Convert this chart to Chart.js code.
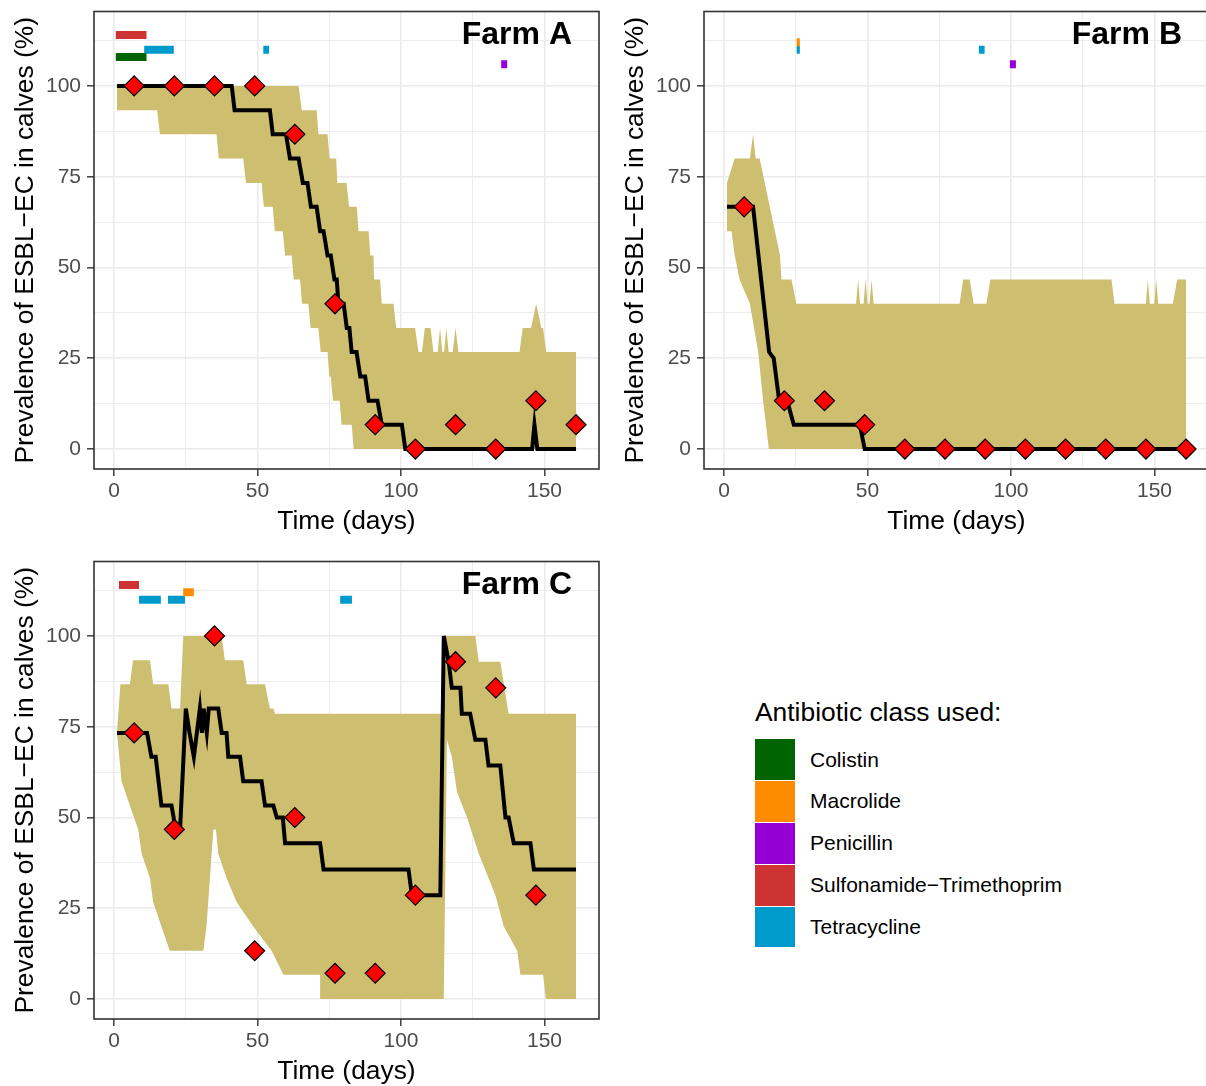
<!DOCTYPE html>
<html>
<head>
<meta charset="utf-8">
<script src="https://cdn.jsdelivr.net/npm/chart.js@4.4.1/dist/chart.umd.min.js"></script>
<style>
  html, body { margin: 0; padding: 0; background: #fff; overflow: hidden; }
  body { width: 1206px; height: 1086px; position: relative; font-family: "Liberation Sans", Arial, sans-serif; }
  canvas { position: absolute; }
  .leg-title { position: absolute; left: 755px; top: 699px; font-size: 26.4px; line-height: 26.4px; color: #000; white-space: nowrap; }
  .leg-item { position: absolute; left: 755px; height: 40.5px; display: flex; align-items: center; white-space: nowrap; }
  .leg-box { width: 40px; height: 40.5px; margin-right: 15px; }
  .leg-text { font-size: 21px; color: #000; }
</style>
</head>
<body>
<canvas id="farm-a" width="605" height="545" style="left:0;top:0"></canvas>
<canvas id="farm-b" width="605" height="545" style="left:610px;top:0"></canvas>
<canvas id="farm-c" width="605" height="545" style="left:0;top:550px"></canvas>
<div id="legend"></div>

<script>
// ---- data ----
const xTicks = [0, 50, 100, 150];
const xMinor = [25, 75, 125];
const yTicks = [0, 25, 50, 75, 100];
const yMinor = [12.5, 37.5, 62.5, 87.5, 112.5];

const classNames = ["Colistin", "Macrolide", "Penicillin", "Sulfonamide\u2212Trimethoprim", "Tetracycline"];
const classColors = ["#006400", "#FF8C00", "#9400D3", "#CD3333", "#009ACD"];
// y level at which each class is marked above the curves
const classLevel = [108, 112, 106, 114, 110];

const obsDays = [7, 21, 35, 49, 63, 77, 91, 105, 119, 133, 147, 161];
const obsA = [100, 100, 100, 100, 86.7, 40, 6.7, 0, 6.7, 0, 13.3, 6.7];
const obsB = [66.7, 13.3, 13.3, 6.7, 0, 0, 0, 0, 0, 0, 0, 0];
const obsC = [73.3, 46.7, 100, 13.3, 50, 7.1, 7.1, 28.6, 92.9, 85.7, 28.6];

// [day, prevalence] of the model curve and its band
const lineA = [[1,100],[41,100],[42,93.3],[54.3,93.3],[55.3,86.7],[59.9,86.7],[61.3,80],[64.3,80],[65.8,73.3],[67.4,73.3],[68.6,66.7],[70.6,66.7],[71.8,60],[73,60],[74.4,53.3],[75.5,53.3],[76.8,46.7],[77.6,46.7],[78.2,40],[80,40],[81.1,33.3],[82,33.3],[82.8,26.7],[84.5,26.7],[85.8,20],[87.5,20],[88.7,13.3],[91.8,13.3],[93.3,6.7],[100.3,6.7],[101.5,0],[145.7,0],[146.5,6.7],[147.5,0],[161,0]];
const upA = [[1,100],[64.3,100],[65.4,93.3],[70.6,93.3],[71.2,86.7],[74.4,86.7],[75.1,80],[77.4,80],[77.8,73.3],[81,73.3],[81.9,66.7],[84.6,66.7],[85.2,60],[88.7,60],[89.3,53.3],[90.4,53.3],[90.6,46.7],[92.7,46.7],[93.3,40],[97.4,40],[98.3,33.3],[104.9,33.3],[106.1,26.7],[107.3,26.7],[108.3,33.3],[110.3,33.3],[111.3,26.7],[112.8,26.7],[113.6,33.3],[114.4,26.7],[115,26.7],[115.8,33.3],[116.6,26.7],[118,26.7],[119,33.3],[120,26.7],[141.3,26.7],[142.4,33.3],[145.3,33.3],[147.1,40],[148.9,33.3],[149.5,33.3],[150.6,26.7],[161,26.7]];
const loA = [[1,93.3],[15,93.3],[16,86.7],[35.7,86.7],[36.5,80],[45,80],[46,73.3],[51.4,73.3],[52.2,66.7],[55.3,66.7],[56,60],[58.8,60],[59.6,53.3],[61.9,53.3],[62.6,46.7],[64.8,46.7],[65.5,40],[67.7,40],[68.5,33.3],[71.2,33.3],[72,26.7],[74.4,26.7],[75,20],[75.5,20],[76.3,13.3],[78.6,13.3],[79.3,6.7],[82.8,6.7],[83.5,0],[161,0]];

const lineB = [[1,66.7],[10.1,66.7],[15.7,26.7],[17.3,25],[19.2,13.3],[22,13.3],[24.3,6.7],[47.3,6.7],[49,0],[161,0]];
const upB = [[1,73.3],[3.7,80],[9,80],[10.1,86.7],[11,80],[12.4,80],[19.5,53.3],[20,46.7],[23.5,46.7],[25.2,40],[46,40],[46.7,46.7],[47.4,40],[48.6,40],[49.3,46.7],[50,40],[50.7,40],[51.4,46.7],[52.1,40],[82.1,40],[83.3,46.7],[85.6,46.7],[87,40],[91.4,40],[92.8,46.7],[135,46.7],[136.1,40],[147,40],[147.7,46.7],[148.4,40],[149.9,40],[150.6,46.7],[151.3,40],[156.4,40],[157.9,46.7],[161,46.7]];
const loB = [[1,60],[2.6,60],[3.7,53.3],[5.4,46.7],[9,40],[11.9,26.7],[13.6,13.3],[15.6,0],[161,0]];

const lineC = [[1,73.3],[11.5,73.3],[13,66.7],[14.5,66.7],[15.5,60],[16.5,53.3],[20,53.3],[21.5,46.7],[23,46.7],[25,80],[26.3,73.3],[27.8,66.7],[29.9,80],[30.6,73.3],[31.2,80],[32.3,73.3],[33,80],[36.3,80],[37.5,73.3],[39.2,73.3],[39.8,66.7],[43.9,66.7],[45,60],[51.4,60],[52.6,53.3],[55.5,53.3],[56.7,50],[58.8,50],[59.6,42.9],[71.8,42.9],[73,35.7],[102.6,35.7],[103.8,28.6],[113.7,28.6],[114.9,100],[116.6,92.9],[117.7,85.7],[120.7,85.7],[121.2,78.6],[124.1,78.6],[125.9,71.4],[129.4,71.4],[130.5,64.3],[134.6,64.3],[136.4,50],[137.5,50],[139.3,42.9],[145.1,42.9],[146.3,35.7],[161,35.7]];
const upC = [[1,73.3],[2.2,86.7],[5.5,86.7],[6.6,93.3],[12.5,93.3],[13.6,86.7],[18.9,86.7],[20,80],[23,80],[24.1,100],[37.5,100],[38.6,93.3],[45,93.3],[46.2,86.7],[52.6,86.7],[54.3,80],[55.5,80],[56.1,78.6],[114.9,78.6],[115.4,100],[125.9,100],[127.1,92.9],[134.6,92.9],[137.5,78.6],[161,78.6]];
const loC = [[1,73.3],[1.8,66.7],[2.6,60],[5.5,53.3],[8.4,46.7],[9.6,40],[12.5,33.3],[13.6,26.7],[16.5,20],[19.4,13.3],[31.1,13.3],[32.2,20],[34.6,46.7],[35.5,46.7],[36.3,40],[39.2,33.3],[42.7,26.7],[48.5,20],[54.9,13.3],[59,6.7],[71.8,6.7],[72,0],[114.9,0],[116,71.4],[117.7,66.7],[119.5,57.1],[123,50],[127.1,40],[132.9,28.6],[135.8,20],[140.5,13.3],[141.6,6.7],[149.5,6.7],[150.5,0],[161,0]];

// antibiotic use: [class index, first day, last day]
const treatA = [[3,0.6,11.3],[0,0.6,11.3],[4,10.5,20.8],[4,52,54],[2,134.9,137]];
const treatB = [[1,25.3,26.4],[4,25.3,26.4],[4,88.8,90.8],[2,99.6,101.7]];
const treatC = [[3,1.7,8.7],[1,24.1,27.8],[4,8.7,16.3],[4,18.8,24.7],[4,78.8,82.9]];

// ---- drawing ----
Chart.defaults.font.family = '"Liberation Sans", Arial, sans-serif';

const panelDeco = {
  id: "panelDeco",
  afterDraw(chart, args, opts) {
    const { ctx, chartArea } = chart;
    ctx.save();
    ctx.strokeStyle = "#333333";
    ctx.lineWidth = 1.6;
    ctx.strokeRect(chartArea.left, chartArea.top, chartArea.right - chartArea.left, chartArea.bottom - chartArea.top);
    ctx.font = 'bold 32px "Liberation Sans", Arial, sans-serif';
    ctx.fillStyle = "#000";
    ctx.textAlign = "right";
    ctx.textBaseline = "alphabetic";
    ctx.fillText(opts.text, chartArea.right - 27, chartArea.top + 32.5);
    ctx.restore();
  },
};

function pts(pairs) {
  return pairs.map((p) => ({ x: p[0], y: p[1] }));
}

function sinRelleno(axis) {
  axis.paddingTop = 0;
  axis.paddingBottom = 0;
  axis.paddingLeft = 0;
  axis.paddingRight = 0;
}

function dibujarGranja(id, titulo, obs, linea, sup, inf, usos) {
  const canvas = document.getElementById(id);

  let datasets = [];

  datasets.push({
    data: obs.map((v, i) => ({ x: obsDays[i], y: v })),
    showLine: false,
    pointStyle: "rectRot",
    pointRadius: 10,
    pointBackgroundColor: "#FF0000",
    pointBorderColor: "#000000",
    pointBorderWidth: 1.2,
    order: 1,
  });

  datasets.push({
    data: pts(linea),
    borderColor: "#000000",
    borderWidth: 4,
    pointRadius: 0,
    fill: false,
    order: 2,
  });

  usos.forEach((u) => {
    datasets.push({
      data: [
        { x: u[1], y: classLevel[u[0]] },
        { x: u[2], y: classLevel[u[0]] },
      ],
      borderColor: classColors[u[0]],
      borderWidth: 8,
      borderCapStyle: "butt",
      pointRadius: 0,
      fill: false,
      order: 5,
    });
  });

  datasets.push({
    data: pts(sup),
    borderColor: "rgba(0,0,0,0)",
    borderWidth: 0,
    backgroundColor: "#CDBE70",
    pointRadius: 0,
    fill: "+1",
    order: 10,
  });

  datasets.push({
    data: pts(inf),
    borderColor: "rgba(0,0,0,0)",
    borderWidth: 0,
    pointRadius: 0,
    fill: false,
    order: 10,
  });

  new Chart(canvas, {
    type: "line",
    data: { datasets: datasets },
    plugins: [panelDeco],
    options: {
      responsive: false,
      animation: false,
      devicePixelRatio: 1,
      layout: { autoPadding: false, padding: { top: 11.5, right: 6, bottom: 0, left: 0 } },
      plugins: {
        legend: { display: false },
        tooltip: { enabled: false },
        panelDeco: { text: titulo },
      },
      scales: {
        x: {
          type: "linear",
          min: -7,
          max: 169,
          bounds: "data",
          afterBuildTicks: (axis) => {
            axis.ticks = xTicks.concat(xMinor).sort((a, b) => a - b).map((v) => ({ value: v }));
          },
          afterFit: (axis) => {
            axis.height = 76;
            sinRelleno(axis);
          },
          border: { display: false },
          grid: {
            color: "#EBEBEB",
            lineWidth: (c) => (c.tick && xTicks.includes(c.tick.value) ? 1.6 : 0.9),
            tickLength: 7,
            tickWidth: 1.4,
            tickColor: (c) => (c.tick && xTicks.includes(c.tick.value) ? "#333333" : "rgba(0,0,0,0)"),
          },
          ticks: {
            autoSkip: false,
            maxRotation: 0,
            padding: 3,
            color: "#4D4D4D",
            font: { size: 21 },
            callback: (v) => (xTicks.includes(v) ? String(v) : ""),
          },
          title: {
            display: true,
            text: "Time (days)",
            color: "#000",
            font: { size: 26.4 },
            padding: { top: 0, bottom: 7 },
          },
        },
        y: {
          type: "linear",
          min: -5.5,
          max: 120.5,
          bounds: "data",
          afterBuildTicks: (axis) => {
            axis.ticks = yTicks.concat(yMinor).sort((a, b) => a - b).map((v) => ({ value: v }));
          },
          afterFit: (axis) => {
            axis.width = 94;
            sinRelleno(axis);
          },
          border: { display: false },
          grid: {
            color: "#EBEBEB",
            lineWidth: (c) => (c.tick && yTicks.includes(c.tick.value) ? 1.6 : 0.9),
            tickLength: 7,
            tickWidth: 1.4,
            tickColor: (c) => (c.tick && yTicks.includes(c.tick.value) ? "#333333" : "rgba(0,0,0,0)"),
          },
          ticks: {
            autoSkip: false,
            padding: 6,
            color: "#4D4D4D",
            font: { size: 21 },
            callback: (v) => (yTicks.includes(v) ? String(v) : ""),
          },
          title: {
            display: true,
            text: "Prevalence of ESBL\u2212EC in calves (%)",
            color: "#000",
            font: { size: 26.4 },
            padding: { top: 10, bottom: 0 },
          },
        },
      },
    },
  });
}

dibujarGranja("farm-a", "Farm A", obsA, lineA, upA, loA, treatA);
dibujarGranja("farm-b", "Farm B", obsB, lineB, upB, loB, treatB);
dibujarGranja("farm-c", "Farm C", obsC, lineC, upC, loC, treatC);

// legend
const legend = document.getElementById("legend");
let titleDiv = document.createElement("div");
titleDiv.className = "leg-title";
titleDiv.textContent = "Antibiotic class used:";
legend.appendChild(titleDiv);

classNames.forEach((name, i) => {
  let item = document.createElement("div");
  item.className = "leg-item";
  item.style.top = (739.3 + i * 41.9) + "px";
  let box = document.createElement("div");
  box.className = "leg-box";
  box.style.background = classColors[i];
  let txt = document.createElement("span");
  txt.className = "leg-text";
  txt.textContent = name;
  item.appendChild(box);
  item.appendChild(txt);
  legend.appendChild(item);
});
</script>
</body>
</html>
